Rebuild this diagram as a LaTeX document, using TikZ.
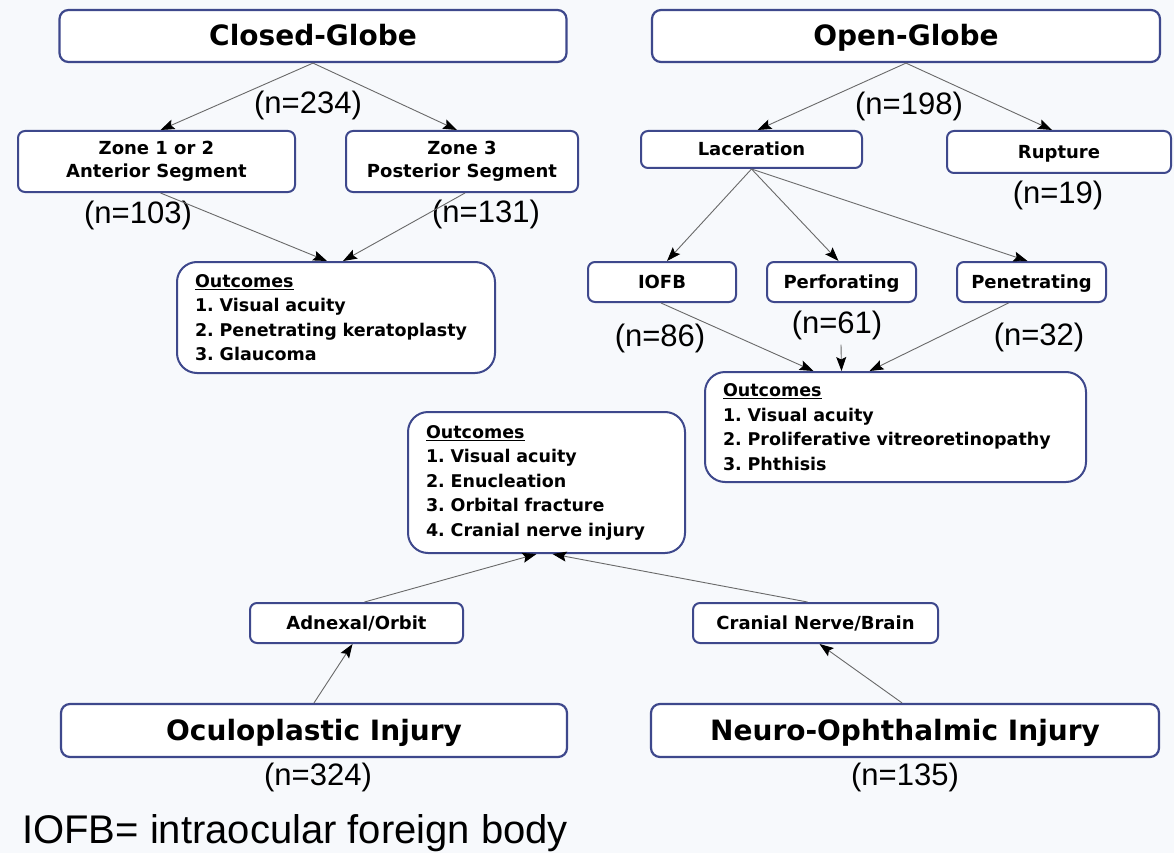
\documentclass[tikz,border=0pt]{standalone}
\usepackage{fontspec}
\usepackage{tikz}
\usetikzlibrary{arrows.meta}
\newfontfamily\verdfont{DejaVu Sans}
\newfontfamily\arialfont{Liberation Sans}
\definecolor{boxblue}{RGB}{62,72,140}
\definecolor{paper}{RGB}{247,249,252}
\definecolor{linegray}{RGB}{105,105,105}
\frenchspacing

\begin{document}
\begin{tikzpicture}[x=1pt, y=-1pt,
  bigbox/.style={draw=boxblue, fill=white, line width=2.2pt, rounded corners=9pt, inner sep=0pt, minimum height=52pt, text height=22pt, text depth=2pt, font=\verdfont\bfseries\fontsize{28}{34}\selectfont},
  smallbox/.style={draw=boxblue, fill=white, line width=2pt, rounded corners=7pt, inner sep=0pt, align=center, font=\verdfont\bfseries\fontsize{18}{23}\selectfont},
  onebox/.style={smallbox, text height=14pt, text depth=1pt},
  outbox/.style={draw=boxblue, fill=white, line width=2pt, rounded corners=20pt, inner xsep=18pt, inner ysep=0pt, align=left, font=\verdfont\bfseries\fontsize{17.5}{24.5}\selectfont},
  ncount/.style={inner sep=0pt, font=\arialfont\fontsize{31}{31}\selectfont},
  arr/.style={draw=linegray, line width=0.9pt, -{Stealth[length=14pt, width=10pt, inset=2.5pt, color=black]}}]
\useasboundingbox (0,0) rectangle (1174,853);
\fill[paper] (0,0) rectangle (1174,853);

% closed globe
\node[bigbox, minimum width=507pt] (closed) at (313,36) {Closed-Globe};
\node[ncount] (n234) at (308,105) {(n=234)};
\node[smallbox, minimum width=277pt, minimum height=61pt] (zone12) at (156.5,161.5) {Zone 1 or 2\\Anterior Segment};
\node[smallbox, minimum width=232pt, minimum height=61pt] (zone3) at (462,161.5) {Zone 3\\Posterior Segment};
\node[ncount] (n103) at (138,215) {(n=103)};
\node[ncount] (n131) at (486,214) {(n=131)};
\node[outbox, text width=282pt, minimum height=111pt] (closedout) at (336,317.5) {\underline{Outcomes}\\1. Visual acuity\\\mbox{2. Penetrating keratoplasty}\\3. Glaucoma};

% open globe
\node[bigbox, minimum width=508pt] (open) at (906,36) {Open-Globe};
\node[ncount] (n198) at (909,106) {(n=198)};
\node[onebox, minimum width=221pt, minimum height=37pt] (lacer) at (751.5,149.5) {Laceration};
\node[onebox, minimum width=224pt, minimum height=42pt] (rupt) at (1059,152) {Rupture};
\node[ncount] (n19) at (1058,195) {(n=19)};
\node[onebox, minimum width=148pt, minimum height=40pt] (iofb) at (662,282) {IOFB};
\node[onebox, minimum width=149pt, minimum height=40pt] (perf) at (841.5,282) {Perforating};
\node[onebox, minimum width=149pt, minimum height=40pt] (pene) at (1031.5,282) {Penetrating};
\node[ncount] (n86) at (660,338) {(n=86)};
\node[ncount] (n61) at (837,325) {(n=61)};
\node[ncount] (n32) at (1039,337) {(n=32)};
\node[outbox, text width=345pt, minimum height=110pt] (openout) at (895.5,427) {\underline{Outcomes}\\1. Visual acuity\\\mbox{2. Proliferative vitreoretinopathy}\\3. Phthisis};

% oculoplastic / neuro
\node[outbox, text width=241pt, minimum height=141pt] (oculout) at (546.5,482.5) {\underline{Outcomes}\\1. Visual acuity\\2. Enucleation\\3. Orbital fracture\\\mbox{4. Cranial nerve injury}};
\node[onebox, minimum width=213pt, minimum height=40pt] (adnex) at (356.5,623) {Adnexal/Orbit};
\node[onebox, minimum width=245pt, minimum height=40pt] (cranial) at (815.5,623) {Cranial Nerve/Brain};
\node[bigbox, minimum width=506pt, minimum height=53pt] (oculo) at (314,730.5) {Oculoplastic Injury};
\node[bigbox, minimum width=508pt, minimum height=53pt] (neuro) at (905,730.5) {Neuro-Ophthalmic Injury};
\node[ncount] (n324) at (318,777) {(n=324)};
\node[ncount] (n135) at (905,777) {(n=135)};
\node[anchor=base west, inner sep=0pt, font=\arialfont\fontsize{40}{40}\selectfont] (legend) at (22,843) {IOFB= intraocular foreign body};

\draw[arr] (closed.south) -- ([xshift=4pt]zone12.north);
\draw[arr] (closed.south) -- ([xshift=-5pt]zone3.north);
\draw[arr] ([xshift=4pt]zone12.south) -- ([xshift=-9pt]closedout.north);
\draw[arr] ([xshift=3pt]zone3.south) -- ([xshift=7pt]closedout.north);

\draw[arr] (open.south) -- ([xshift=6pt]lacer.north);
\draw[arr] (open.south) -- ([xshift=-7pt]rupt.north);
\draw[arr] (lacer.south) -- ([xshift=5pt]iofb.north);
\draw[arr] (lacer.south) -- ([xshift=-3pt]perf.north);
\draw[arr] (lacer.south) -- ([xshift=-4pt]pene.north);
\draw[arr] ([xshift=-1pt]iofb.south) -- ([xshift=-82pt]openout.north);
\draw[arr] ([xshift=4pt,yshift=-5pt]n61.south) -- ([xshift=-54pt]openout.north);
\draw[arr] ([xshift=-23pt]pene.south) -- ([xshift=-26pt]openout.north);

\draw[arr] ([xshift=8pt]adnex.north) -- ([xshift=-10pt]oculout.south);
\draw[arr] ([xshift=-8pt]cranial.north) -- ([xshift=6pt]oculout.south);
\draw[arr] (oculo.north) -- ([xshift=-4pt]adnex.south);
\draw[arr] ([xshift=-3pt]neuro.north) -- ([xshift=4pt]cranial.south);
\end{tikzpicture}
\end{document}
